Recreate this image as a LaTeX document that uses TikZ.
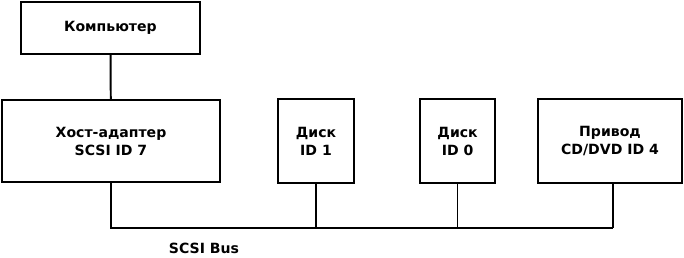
\documentclass[tikz,border=0pt]{standalone}
\usepackage{fontspec}
\setmainfont{DejaVu Sans}
\usetikzlibrary{positioning}

\begin{document}
\begin{tikzpicture}[
    unit/.style={draw, line width=1.4pt, align=center, inner sep=0pt,
                 font=\bfseries\fontsize{10}{12.8}\selectfont},
    bus/.style={line width=1.4pt},
    thinbus/.style={line width=0.7pt}]
  \useasboundingbox (0,0) rectangle (17.1,6.425);
  % computer and host adapter
  \node[unit, minimum width=4.475cm, minimum height=1.3cm] (comp) at (2.76,5.725) {Компьютер};
  \node[unit, minimum width=5.45cm, minimum height=2.05cm] (host) at (2.775,2.9) {Хост-адаптер\\SCSI ID 7};
  % devices on the bus
  \node[unit, minimum width=1.9cm, minimum height=2.1cm] (disk1) at (7.9,2.9) {Диск\\ID 1};
  \node[unit, minimum width=1.875cm, minimum height=2.1cm] (disk0) at (11.44,2.9) {Диск\\ID 0};
  \node[unit, minimum width=3.6cm, minimum height=2.1cm] (drive) at (15.25,2.9) {Привод\\CD/DVD ID 4};
  \coordinate (busend) at (15.325,0.725);
  \coordinate (tap1) at (disk1 |- busend);
  \coordinate (tap0) at (disk0 |- busend);
  \node[font=\bfseries\fontsize{10}{12.8}\selectfont] (buslabel) at (5.1,0.225) {SCSI Bus};
  \draw[bus] (comp) -- (host);
  \draw[bus] (host.south) |- (busend);
  \draw[bus] (disk1) -- (tap1);
  \draw[thinbus] (disk0) -- (tap0);
  \draw[bus] (drive.south -| busend) -- (busend);
\end{tikzpicture}
\end{document}
